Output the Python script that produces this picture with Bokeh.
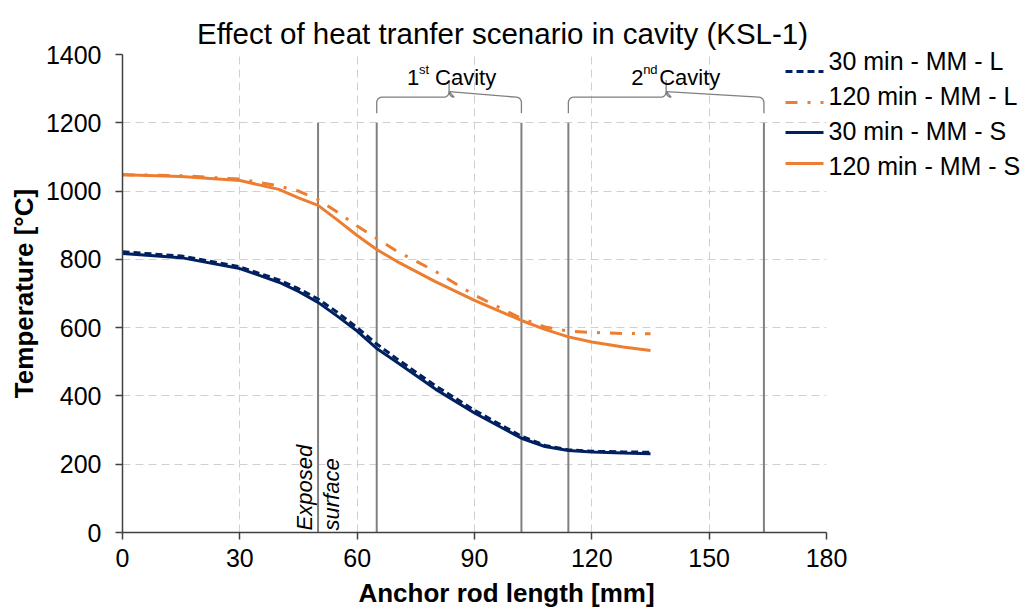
import numpy as np
from bokeh.plotting import figure
from bokeh.models import FixedTicker, Label, Range1d
from bokeh.embed import file_html
from bokeh.resources import INLINE

# ---------------- data ----------------
x_mm = [0, 15, 30, 40, 45, 50, 55, 60, 65, 70, 80, 90, 102, 108, 114, 120, 128, 135]
t30_L = [822, 810, 778, 740, 714, 684, 644, 600, 552, 510, 430, 358, 282, 255, 242, 238, 236, 235]
t120_L = [1048, 1045, 1035, 1015, 1000, 975, 938, 898, 861, 825, 765, 695, 627, 602, 590, 586, 583, 582]
t30_S = [817, 805, 773, 733, 706, 674, 633, 590, 539, 500, 420, 350, 276, 252, 240, 236, 233, 231]
t120_S = [1048, 1043, 1031, 1005, 980, 958, 915, 870, 829, 795, 735, 680, 621, 595, 573, 558, 543, 533]

series_names = ["30 min - MM - L", "120 min - MM - L", "30 min - MM - S", "120 min - MM - S"]

exposed_surface = [50]
cavity1 = [65, 102]
cavity2 = [114, 164]
marker_top = 1200

x_ticks = [0, 30, 60, 90, 120, 150, 180]
y_ticks = [0, 200, 400, 600, 800, 1000, 1200, 1400]

NAVY = "#002060"
ORANGE = "#ED7D31"
FONT = "Liberation Sans"

# frame geometry (pixels) -> helpers to place decorations
FL, FR, FT, FB = 122, 826, 54, 532
X0, X1, Y0, Y1 = 0, 180, 0, 1400
def dx(px):
    return X0 + (px - FL) * (X1 - X0) / (FR - FL)
def dy(py):
    return Y0 + (FB - py) * (Y1 - Y0) / (FB - FT)

p = figure(width=1033, height=610, output_backend="svg", toolbar_location=None,
           x_range=Range1d(X0, X1), y_range=Range1d(Y0, Y1),
           min_border_left=FL, min_border_right=1033 - FR, min_border_top=FT,
           min_border_bottom=610 - FB)

p.outline_line_color = None
p.background_fill_color = "white"
p.border_fill_color = "white"

# title as a label in the top panel
p.add_layout(Label(x=dx(502), y=dy(33), text="Effect of heat tranfer scenario in cavity (KSL-1)",
                   text_font=FONT, text_font_size="29.5px", text_align="center",
                   text_baseline="alphabetic", text_color="#000000"), "above")

for g in (p.xgrid, p.ygrid):
    g.grid_line_color = "#D0D0D0"
    g.grid_line_dash = "8 5"
    g.grid_line_width = 1
p.xgrid.ticker = FixedTicker(ticks=x_ticks)
p.ygrid.ticker = FixedTicker(ticks=y_ticks)

p.xaxis.ticker = FixedTicker(ticks=x_ticks)
p.yaxis.ticker = FixedTicker(ticks=y_ticks)
for ax in (p.xaxis, p.yaxis):
    ax.axis_line_color = "#404040"
    ax.axis_line_width = 1.5
    ax.major_tick_line_color = "#404040"
    ax.major_tick_line_width = 1.5
    ax.major_tick_out = 7
    ax.major_tick_in = 0
    ax.minor_tick_line_color = None
    ax.major_label_text_font = FONT
    ax.major_label_text_font_size = "25px"
    ax.major_label_text_color = "#000000"
p.yaxis.major_label_standoff = 14
p.xaxis.major_label_standoff = 9

p.yaxis.axis_label = "Temperature [°C]"
p.yaxis.axis_label_text_font = FONT
p.yaxis.axis_label_text_font_size = "26px"
p.yaxis.axis_label_text_font_style = "bold"
p.yaxis.axis_label_text_color = "#000000"
p.yaxis.axis_label_standoff = 4

p.add_layout(Label(x=dx(506), y=dy(592), text="Anchor rod length [mm]", text_font=FONT,
                   text_font_size="26px", text_font_style="bold", text_align="center",
                   text_baseline="middle", text_color="#000000"), "below")

# vertical marker lines
for xv in exposed_surface + cavity1 + cavity2:
    p.line([xv, xv], [0, marker_top], line_color="#808080", line_width=2)

# brackets
def bracket(x0, x1, yb, yh, yt, rx=1.3, ry=16):
    xm = (x0 + x1) / 2
    th = np.linspace(0, np.pi / 2, 8)
    xs, ys = [x0], [yb]
    xs += list(x0 + rx - rx * np.cos(th)); ys += list(yh - ry + ry * np.sin(th))
    xs += list(xm - rx + rx * np.sin(th)); ys += list(yh + ry - ry * np.cos(th))
    xs += [xm]; ys += [yt]
    xs2, ys2 = [xm], [yh + ry]
    xs2 += list(xm + rx - rx * np.cos(th[::-1])); ys2 += list(yh + ry - ry * np.sin(th[::-1]))
    xs2 += list(x1 - rx + rx * np.sin(th)); ys2 += list(yh - ry + ry * np.cos(th))
    xs2 += [x1]; ys2 += [yb]
    return xs, ys, xs2, ys2

for (a, b) in (cavity1, cavity2):
    xs, ys, xs2, ys2 = bracket(a, b, 1228, 1275, 1325)
    p.line(xs, ys, line_color="#7F7F7F", line_width=1.3)
    p.line(xs2, ys2, line_color="#7F7F7F", line_width=1.3)

def cav_label(xc, off, num, sup):
    p.add_layout(Label(x=xc, y=1333, x_offset=off, text=num, text_font=FONT,
                       text_font_size="22px", text_baseline="alphabetic", text_align="left",
                       text_color="#000000"))
    p.add_layout(Label(x=xc, y=1333, x_offset=off + 12, y_offset=8, text=sup, text_font=FONT,
                       text_font_size="13px", text_baseline="alphabetic", text_align="left",
                       text_color="#000000"))
    p.add_layout(Label(x=xc, y=1333, x_offset=off + 28, text="Cavity", text_font=FONT,
                       text_font_size="22px", text_baseline="alphabetic", text_align="left",
                       text_color="#000000"))

cav_label((cavity1[0] + cavity1[1]) / 2, -42, "1", "st")
cav_label((cavity2[0] + cavity2[1]) / 2, -35, "2", "nd")

# Exposed surface
p.add_layout(Label(x=exposed_surface[0], y=6, x_offset=-14, text="Exposed", angle=np.pi / 2,
                   text_font=FONT, text_font_size="22px", text_font_style="italic",
                   text_align="left", text_baseline="middle", text_color="#000000"))
p.add_layout(Label(x=exposed_surface[0], y=6, x_offset=13, text="surface", angle=np.pi / 2,
                   text_font=FONT, text_font_size="22px", text_font_style="italic",
                   text_align="left", text_baseline="middle", text_color="#000000"))

# series
styles = [(NAVY, "7 4"), (ORANGE, "12 10 3 10"), (NAVY, "solid"), (ORANGE, "solid")]
series = [t30_L, t120_L, t30_S, t120_S]
for vals, (col, dash) in zip(series, styles):
    p.line(x_mm, vals, line_color=col, line_width=3, line_dash=dash)

# legend (drawn by hand so that it can overlap the plot's right edge)
row_px = [71, 102, 132, 163]
for ypx, (col, dash) in zip(row_px, styles):
    p.line([dx(785), dx(823)], [dy(ypx), dy(ypx)], line_color=col, line_width=3, line_dash=dash)
p.add_layout(Label(x=dx(828), y=dy((row_px[0] + row_px[-1]) / 2 - 4), text="\n".join(series_names),
                   text_font=FONT, text_font_size="25px", text_align="left",
                   text_baseline="middle", text_line_height=1.24, text_color="#000000"), "right")

open("out.html", "w").write(file_html(p, INLINE))
